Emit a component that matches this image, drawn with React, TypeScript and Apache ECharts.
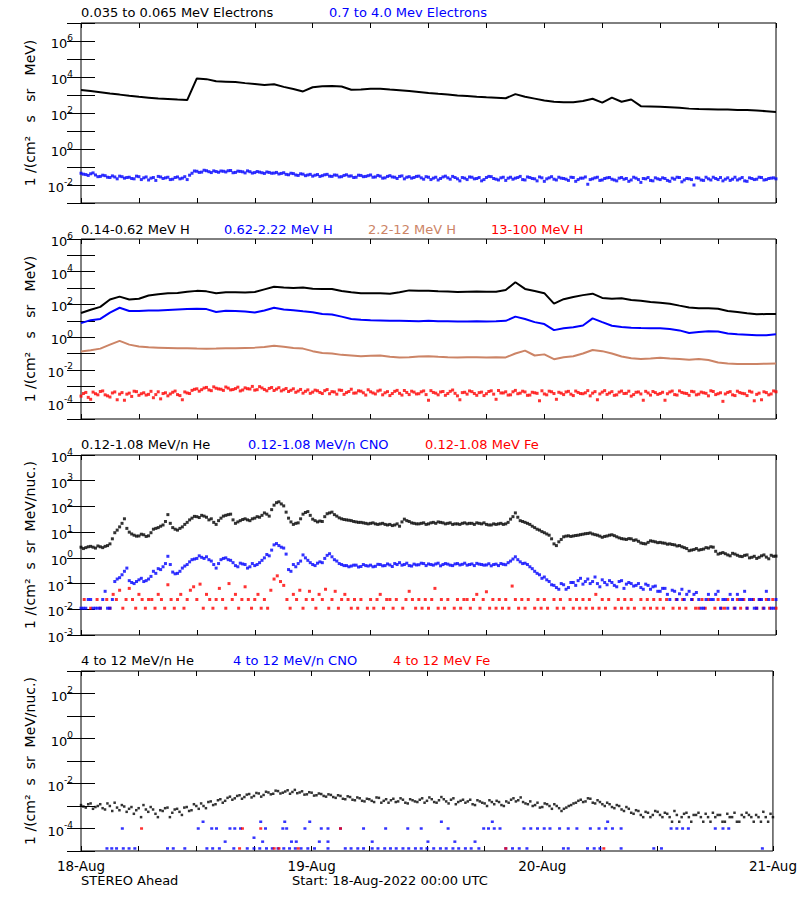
import React, { useEffect, useRef } from 'react';
import * as echarts from 'echarts';

const FONT = 'DejaVu Sans';
const BLACK = '#000000';
const BLUE = '#0000ff';
const BROWN = '#cc8466';
const RED = '#ff0000';

const dayLabels = ['18-Aug', '19-Aug', '20-Aug', '21-Aug'];

// Panel 1: 0.035-0.065 MeV electrons (hourly)
const elecLow = [1900, 1660, 1410, 1200, 1050, 910, 795, 710, 630, 600, 560, 525,
  8300, 7600, 5750, 5500, 5250, 4570, 4070, 3630, 3980, 2820, 2140, 1580,
  2690, 3090, 3160, 2950, 1950, 2040, 2240, 2190, 2000, 1860, 1660, 1480,
  1290, 1170, 1070, 930, 870, 795, 740, 710, 660, 1120, 795, 630,
  500, 420, 390, 400, 460, 615, 380, 710, 420, 560, 240, 230,
  220, 210, 195, 175, 165, 162, 158, 155, 148, 145, 138, 126, 115];

// Panel 1: 0.7-4.0 MeV electrons (30 min, on the hour / half hour)
const elecHigh = [0.045, 0.038, 0.042, 0.036, 0.030, 0.033, 0.026, 0.028, 0.031, 0.024,
  0.027, 0.022, 0.029, 0.025, 0.019, 0.026, 0.030, 0.023, 0.027, 0.021,
  0.028, 0.024, 0.020, 0.045, 0.058, 0.052, 0.062, 0.049, 0.056, 0.060,
  0.053, 0.064, 0.050, 0.057, 0.047, 0.055, 0.049, 0.052, 0.044, 0.050,
  0.046, 0.041, 0.048, 0.037, 0.043, 0.034, 0.040, 0.036, 0.031, 0.038,
  0.033, 0.039, 0.030, 0.035, 0.029, 0.037, 0.032, 0.027, 0.034, 0.030,
  0.036, 0.028, 0.031, 0.025, 0.033, 0.027, 0.030, 0.022, 0.029, 0.026,
  0.031, 0.021, 0.027, 0.024, 0.019, 0.028, 0.025, 0.030, 0.022, 0.026,
  0.020, 0.027, 0.023, 0.017, 0.026, 0.029, 0.021, 0.025, 0.018, 0.027,
  0.024, 0.030, 0.019, 0.026, 0.022, 0.028, 0.016, 0.025, 0.021, 0.027,
  0.023, 0.018, 0.026, 0.020, 0.024, 0.011, 0.022, 0.027, 0.019, 0.025,
  0.021, 0.017, 0.026, 0.023, 0.019, 0.024, 0.014, 0.022, 0.018, 0.025,
  0.020, 0.023, 0.016, 0.021, 0.026, 0.019, 0.022, 0.010, 0.024, 0.018,
  0.022, 0.027, 0.020, 0.017, 0.025, 0.021, 0.019, 0.026, 0.016, 0.023,
  0.021, 0.026, 0.020, 0.024, 0.022];
// same channel, samples at :15 / :45
const elecHighQ = [0.040, 0.034, 0.047, 0.029, 0.035, 0.027, 0.032, 0.022, 0.029, 0.026,
  0.023, 0.031, 0.020, 0.028, 0.024, 0.018, 0.028, 0.025, 0.020, 0.026,
  0.022, 0.029, 0.035, 0.060, 0.050, 0.066, 0.055, 0.061, 0.051, 0.058,
  0.062, 0.048, 0.059, 0.054, 0.061, 0.046, 0.056, 0.048, 0.053, 0.045,
  0.050, 0.044, 0.039, 0.045, 0.036, 0.042, 0.033, 0.039, 0.035, 0.030,
  0.037, 0.031, 0.036, 0.028, 0.034, 0.031, 0.026, 0.035, 0.029, 0.033,
  0.027, 0.034, 0.024, 0.030, 0.028, 0.023, 0.032, 0.027, 0.024, 0.030,
  0.025, 0.029, 0.020, 0.027, 0.023, 0.031, 0.021, 0.026, 0.017, 0.024,
  0.028, 0.022, 0.026, 0.020, 0.030, 0.023, 0.019, 0.027, 0.024, 0.021,
  0.026, 0.020, 0.028, 0.023, 0.017, 0.025, 0.022, 0.029, 0.019, 0.024,
  0.021, 0.027, 0.016, 0.024, 0.028, 0.020, 0.025, 0.018, 0.023, 0.026,
  0.019, 0.024, 0.021, 0.016, 0.027, 0.020, 0.023, 0.026, 0.017, 0.022,
  0.025, 0.018, 0.024, 0.027, 0.015, 0.023, 0.020, 0.025, 0.019, 0.027,
  0.019, 0.023, 0.026, 0.021, 0.018, 0.027, 0.022, 0.017, 0.025, 0.020,
  0.027, 0.019, 0.023, 0.025];

// Panel 2: protons (hourly)
const h014 = [30, 47, 71, 200, 300, 200, 224, 355, 427, 479, 501, 603,
  676, 631, 479, 562, 562, 537, 575, 832, 1200, 1070, 1000, 1070,
  912, 891, 891, 661, 562, 490, 490, 490, 457, 562, 724, 692,
  676, 631, 617, 575, 603, 617, 589, 603, 759, 2290, 891, 661,
  490, 112, 209, 288, 372, 457, 251, 224, 240, 186, 166, 141,
  126, 110, 85, 66, 59, 58, 55, 40, 35, 29, 25, 26, 26];
const h062 = [7.2, 11, 13, 32, 63, 40, 40, 43, 43, 46, 49, 52,
  54, 52, 35, 41, 40, 37, 32, 43, 63, 49, 44, 38,
  33, 26, 24, 18, 13, 11.5, 10.7, 10.5, 10, 10, 9.8, 9.3,
  10, 9.5, 9.3, 9.1, 9.1, 9.3, 9.1, 9.3, 10, 18, 13, 8.3,
  6.3, 2.7, 3.5, 4.0, 5.2, 14, 8.3, 5.0, 4.2, 3.8, 3.6, 3.5,
  3.5, 3.2, 2.6, 1.8, 2.1, 2.3, 2.2, 1.7, 1.5, 1.4, 1.3, 1.3, 1.5];
const h22 = [0.135, 0.16, 0.20, 0.35, 0.60, 0.35, 0.27, 0.24, 0.23, 0.22, 0.21, 0.21,
  0.20, 0.195, 0.20, 0.21, 0.21, 0.22, 0.23, 0.25, 0.30, 0.26, 0.22, 0.20,
  0.14, 0.107, 0.10, 0.083, 0.076, 0.068, 0.074, 0.076, 0.063, 0.058, 0.060, 0.066,
  0.068, 0.063, 0.060, 0.058, 0.059, 0.060, 0.058, 0.059, 0.058, 0.10, 0.15, 0.076,
  0.089, 0.045, 0.060, 0.068, 0.10, 0.166, 0.14, 0.10, 0.066, 0.052, 0.046, 0.050,
  0.056, 0.050, 0.046, 0.042, 0.047, 0.040, 0.028, 0.025, 0.023, 0.023, 0.023, 0.024, 0.025];
// 13-100 MeV H (30 min)
const h13 = [2.5e-4, 4.2e-4, 1.6e-4, 3.5e-4, 4.8e-4, 3.0e-4, 2.2e-4, 4.5e-4, 3.3e-4, 1.4e-4,
  3.8e-4, 5.0e-4, 2.8e-4, 4.0e-4, 3.2e-4, 2.0e-4, 4.6e-4, 3.6e-4, 2.6e-4, 4.3e-4,
  3.1e-4, 1.5e-4, 3.9e-4, 5.6e-4, 7.0e-4, 6.2e-4, 8.5e-4, 5.4e-4, 7.6e-4, 6.6e-4,
  9.0e-4, 6.0e-4, 7.2e-4, 5.2e-4, 8.0e-4, 6.8e-4, 5.8e-4, 9.5e-4, 6.4e-4, 7.4e-4,
  5.5e-4, 8.2e-4, 6.1e-4, 4.8e-4, 7.0e-4, 5.1e-4, 3.8e-4, 6.0e-4, 4.4e-4, 5.3e-4,
  3.6e-4, 6.3e-4, 4.7e-4, 3.3e-4, 5.6e-4, 4.1e-4, 6.6e-4, 3.9e-4, 5.0e-4, 2.9e-4,
  4.6e-4, 3.4e-4, 5.8e-4, 4.0e-4, 2.7e-4, 4.9e-4, 3.7e-4, 5.5e-4, 3.1e-4, 4.4e-4,
  3.5e-4, 5.2e-4, 1.4e-4, 4.2e-4, 3.0e-4, 4.8e-4, 3.6e-4, 5.9e-4, 2.6e-4, 4.1e-4,
  3.3e-4, 4.7e-4, 2.8e-4, 4.4e-4, 3.5e-4, 5.3e-4, 1.6e-4, 3.9e-4, 4.6e-4, 3.0e-4,
  5.6e-4, 3.8e-4, 4.5e-4, 2.9e-4, 4.0e-4, 1.3e-4, 3.4e-4, 5.0e-4, 3.6e-4, 4.3e-4,
  3.1e-4, 4.9e-4, 2.7e-4, 4.2e-4, 3.5e-4, 5.4e-4, 3.8e-4, 1.5e-4, 4.4e-4, 3.2e-4,
  4.7e-4, 3.0e-4, 5.1e-4, 3.7e-4, 2.5e-4, 4.3e-4, 3.4e-4, 4.9e-4, 2.9e-4, 4.1e-4,
  3.6e-4, 1.4e-4, 4.5e-4, 3.1e-4, 5.2e-4, 3.8e-4, 2.8e-4, 4.6e-4, 3.3e-4, 4.0e-4,
  2.6e-4, 4.8e-4, 3.5e-4, 1.2e-4, 4.2e-4, 3.0e-4, 5.0e-4, 3.7e-4, 2.7e-4, 4.4e-4,
  3.2e-4, 1.5e-4, 4.1e-4, 3.4e-4, 4.6e-4];
const h13Q = [3.6e-4, 2.1e-4, 4.4e-4, 3.0e-4, 5.2e-4, 2.6e-4, 3.9e-4, 1.5e-4, 4.1e-4, 3.3e-4,
  2.4e-4, 4.7e-4, 3.5e-4, 2.9e-4, 4.9e-4, 3.1e-4, 1.7e-4, 4.0e-4, 3.4e-4, 5.1e-4,
  2.7e-4, 4.5e-4, 3.6e-4, 6.5e-4, 5.0e-4, 7.8e-4, 6.0e-4, 9.2e-4, 6.9e-4, 5.6e-4,
  7.7e-4, 6.3e-4, 8.8e-4, 5.9e-4, 7.1e-4, 9.8e-4, 6.2e-4, 7.9e-4, 5.3e-4, 8.4e-4,
  6.7e-4, 5.2e-4, 7.3e-4, 5.7e-4, 4.3e-4, 6.4e-4, 4.9e-4, 3.7e-4, 5.8e-4, 4.2e-4,
  5.4e-4, 3.5e-4, 4.5e-4, 5.9e-4, 3.2e-4, 4.8e-4, 3.8e-4, 5.3e-4, 4.0e-4, 6.1e-4,
  3.9e-4, 5.1e-4, 3.0e-4, 4.7e-4, 3.6e-4, 5.6e-4, 2.9e-4, 4.2e-4, 5.0e-4, 3.4e-4,
  4.6e-4, 3.1e-4, 5.4e-4, 3.8e-4, 4.5e-4, 2.8e-4, 4.9e-4, 3.7e-4, 1.5e-4, 4.3e-4,
  5.2e-4, 3.6e-4, 4.1e-4, 2.7e-4, 4.8e-4, 3.3e-4, 5.5e-4, 3.9e-4, 2.9e-4, 4.6e-4,
  3.5e-4, 5.0e-4, 2.8e-4, 4.3e-4, 3.7e-4, 5.3e-4, 3.0e-4, 4.6e-4, 1.6e-4, 3.8e-4,
  4.5e-4, 3.3e-4, 5.1e-4, 3.6e-4, 4.0e-4, 2.6e-4, 4.7e-4, 3.4e-4, 5.4e-4, 3.9e-4,
  2.8e-4, 4.4e-4, 3.6e-4, 5.0e-4, 3.1e-4, 4.5e-4, 1.4e-4, 3.9e-4, 4.8e-4, 3.2e-4,
  4.3e-4, 3.5e-4, 5.1e-4, 2.9e-4, 4.2e-4, 3.6e-4, 4.9e-4, 3.0e-4, 4.4e-4, 3.7e-4,
  5.3e-4, 3.1e-4, 4.0e-4, 3.4e-4, 4.7e-4, 2.7e-4, 4.1e-4, 3.5e-4, 5.0e-4, 1.3e-4,
  3.8e-4, 4.6e-4, 3.0e-4, 5.2e-4];

// Panel 3: 0.12-1.08 MeV/n (30 min)
const he012 = [2.6, 2.5, 2.8, 2.4, 2.7, 2.8, 3.5, 9.5, 16, 33,
  10, 7.6, 7.1, 7.9, 7.2, 13, 15, 19, 48, 15,
  12, 16, 24, 35, 40, 45, 38, 33, 20, 35,
  45, 50, 22, 28, 33, 28, 35, 38, 56, 42,
  112, 151, 105, 35, 20, 23, 50, 63, 32, 25,
  26, 52, 60, 42, 33, 30, 28, 25, 24, 22,
  22, 21, 21, 20, 20, 19, 17, 32, 26, 22,
  21, 23, 21, 24, 25, 23, 22, 20, 21, 22,
  21, 22, 23, 21, 20, 19, 20, 22, 21, 32,
  56, 28, 24, 20, 15, 12, 9.5, 7.6, 3.5, 4.2,
  6.6, 7.2, 7.1, 7.6, 8.3, 8.9, 8.5, 7.6, 6.3, 7.1,
  7.9, 6.6, 5.6, 5.2, 5.5, 5.0, 3.8, 3.5, 4.6, 4.2,
  4.0, 3.7, 3.5, 3.2, 3.0, 2.5, 1.9, 2.1, 2.0, 2.2,
  2.4, 2.6, 1.4, 1.6, 1.3, 1.5, 1.26, 1.12, 1.3, 1.05,
  0.95, 1.2, 1.07, 1.26, 1.17];
const he012Q = [2.3, 2.7, 2.6, 2.9, 2.5, 3.0, 5.5, 12, 22, 14,
  8.5, 7.0, 8.3, 6.8, 9.5, 14, 17, 26, 22, 13,
  14, 20, 30, 41, 37, 42, 30, 24, 28, 42,
  48, 30, 25, 31, 30, 33, 40, 45, 50, 75,
  140, 125, 60, 25, 22, 33, 58, 45, 28, 27,
  40, 56, 48, 36, 31, 29, 26, 24, 23, 21,
  23, 20, 22, 19, 18, 21, 25, 28, 23, 21,
  22, 20, 23, 22, 24, 21, 23, 21, 20, 23,
  22, 20, 22, 23, 19, 21, 21, 20, 24, 40,
  38, 26, 22, 17, 13, 10.5, 8.5, 5.5, 3.0, 5.2,
  7.0, 6.8, 7.4, 8.0, 8.7, 9.3, 8.0, 7.0, 6.8, 7.6,
  7.3, 6.0, 5.4, 5.6, 4.8, 4.4, 3.6, 4.0, 4.4, 3.9,
  3.8, 3.4, 3.3, 2.9, 2.7, 2.3, 2.0, 2.3, 2.1, 2.5,
  2.7, 1.8, 1.5, 1.45, 1.2, 1.4, 1.15, 1.25, 1.0, 1.15,
  1.05, 1.3, 0.92, 1.15];
const cno012 = [0.011, 0.011, 0.024, 0.011, 0.011, 0.050, 0.011, 0.12, 0.17, 0.30,
  0.13, 0.10, 0.14, 0.12, 0.15, 0.30, 0.38, 0.45, 1.15, 0.28,
  0.25, 0.40, 0.55, 0.85, 0.95, 1.05, 1.10, 0.75, 0.40, 0.85,
  1.0, 0.80, 0.50, 0.62, 0.55, 0.45, 0.50, 0.65, 1.0, 1.2,
  3.2, 3.0, 2.4, 0.35, 0.55, 0.60, 1.3, 0.80, 0.55, 0.62,
  0.65, 1.25, 1.1, 0.75, 0.55, 0.50, 0.48, 0.52, 0.46, 0.50,
  0.52, 0.47, 0.55, 0.50, 0.53, 0.60, 0.65, 0.55, 0.50, 0.57,
  0.54, 0.60, 0.58, 0.52, 0.62, 0.55, 0.57, 0.50, 0.60, 0.56,
  0.52, 0.58, 0.61, 0.55, 0.53, 0.49, 0.57, 0.60, 0.54, 0.75,
  1.1, 0.70, 0.62, 0.45, 0.30, 0.22, 0.18, 0.12, 0.085, 0.060,
  0.090, 0.070, 0.11, 0.13, 0.095, 0.15, 0.12, 0.10, 0.14, 0.090,
  0.11, 0.075, 0.13, 0.095, 0.10, 0.085, 0.070, 0.095, 0.060, 0.080,
  0.050, 0.065, 0.024, 0.050, 0.040, 0.024, 0.050, 0.038, 0.024, 0.011,
  0.038, 0.024, 0.050, 0.024, 0.011, 0.024, 0.038, 0.024, 0.011, 0.024,
  0.011, 0.024, 0.050, 0.011, 0.024];
const cno012Q = [0.011, 0.024, 0.011, 0.011, 0.024, 0.011, 0.024, 0.15, 0.22, 0.40,
  0.11, 0.12, 0.16, 0.13, 0.19, 0.25, 0.35, 0.60, 0.55, 0.24,
  0.30, 0.48, 0.70, 0.90, 1.2, 0.95, 0.85, 0.55, 0.60, 0.95,
  0.85, 0.65, 0.45, 0.58, 0.40, 0.60, 0.55, 0.80, 1.35, 2.0,
  3.6, 2.6, 1.4, 0.30, 0.45, 0.75, 1.0, 0.65, 0.50, 0.70,
  0.95, 1.45, 0.85, 0.60, 0.50, 0.45, 0.52, 0.44, 0.55, 0.48,
  0.45, 0.56, 0.49, 0.58, 0.46, 0.55, 0.52, 0.62, 0.48, 0.53,
  0.62, 0.50, 0.55, 0.58, 0.49, 0.60, 0.52, 0.58, 0.53, 0.62,
  0.55, 0.50, 0.57, 0.52, 0.59, 0.55, 0.50, 0.56, 0.65, 0.90,
  0.85, 0.60, 0.55, 0.38, 0.25, 0.16, 0.14, 0.09, 0.070, 0.10,
  0.060, 0.11, 0.085, 0.16, 0.12, 0.10, 0.18, 0.075, 0.11, 0.13,
  0.085, 0.12, 0.065, 0.11, 0.08, 0.10, 0.060, 0.085, 0.075, 0.050,
  0.065, 0.038, 0.055, 0.024, 0.060, 0.038, 0.024, 0.045, 0.011, 0.024,
  0.024, 0.038, 0.011, 0.024, 0.038, 0.011, 0.024, 0.050, 0.024, 0.011,
  0.024, 0.011, 0.024, 0.011];
// Fe 0.12-1.08 MeV (20 min, null = no counts)
const fe012 = [null, 0.024, null, 0.011, null, 0.024, 0.011, null, 0.024, 0.011, 0.038, 0.024,
  0.055, 0.011, 0.024, 0.065, 0.024, 0.011, 0.038, 0.024, 0.011, 0.024, 0.024, 0.011,
  0.038, 0.024, 0.011, 0.090, 0.024, 0.011, 0.024, 0.038, 0.011, 0.024, 0.055, 0.075,
  0.024, 0.095, 0.011, 0.038, 0.024, 0.011, 0.024, 0.065, 0.024, 0.011, 0.10, 0.024,
  0.038, 0.011, 0.024, 0.075, 0.024, 0.011, 0.024, 0.038, 0.011, 0.024, 0.011, 0.055,
  0.15, 0.20, 0.12, 0.085, 0.024, 0.011, 0.038, 0.024, 0.055, 0.011, 0.024, 0.050,
  0.024, 0.011, 0.038, 0.024, 0.060, 0.011, 0.024, 0.050, 0.011, 0.024, 0.038, 0.024,
  0.011, 0.024, 0.011, 0.024, null, 0.011, 0.024, 0.011, 0.024, 0.038, 0.011, 0.024,
  0.024, 0.011, 0.024, null, 0.011, 0.024, 0.050, 0.024, 0.011, 0.024, 0.011, 0.024,
  0.011, 0.024, 0.065, 0.011, 0.024, 0.011, 0.024, null, 0.011, 0.024, 0.011, 0.024,
  0.024, 0.011, 0.024, 0.038, 0.011, 0.024, 0.048, 0.011, 0.024, 0.011, 0.024, 0.011,
  0.024, 0.011, 0.080, 0.024, 0.011, 0.024, 0.011, 0.024, null, 0.011, 0.024, 0.011,
  0.024, 0.011, null, 0.024, 0.011, 0.024, 0.011, null, 0.024, 0.011, 0.024, 0.011,
  0.024, 0.011, 0.024, 0.011, 0.038, 0.011, 0.024, 0.011, 0.024, null, 0.011, 0.024,
  0.011, 0.024, 0.011, 0.024, 0.011, null, 0.024, 0.011, 0.024, 0.011, 0.024, 0.011,
  0.024, 0.011, 0.024, null, 0.011, 0.024, 0.011, 0.024, 0.011, null, 0.024, 0.011,
  0.011, 0.024, 0.011, 0.024, null, 0.011, 0.024, 0.011, 0.011, 0.024, null, 0.011,
  0.024, 0.011, 0.024, 0.011, null, 0.024, 0.011, 0.024, 0.011, 0.024, 0.011, 0.024,
  0.011];

// Panel 4: 4-12 MeV/n He (30 min)
const he4 = [1.1e-3, 8.5e-4, 1.3e-3, 9.0e-4, 1.2e-3, 7.0e-4, 1.0e-3, 1.4e-3, 6.5e-4, 9.5e-4,
  7.5e-4, 4.5e-4, 8.0e-4, 1.1e-3, 5.5e-4, 7.0e-4, 3.2e-4, 6.0e-4, 8.5e-4, 5.0e-4,
  7.5e-4, 4.0e-4, 9.0e-4, 6.5e-4, 1.0e-3, 1.3e-3, 8.0e-4, 1.6e-3, 1.2e-3, 2.0e-3,
  1.7e-3, 2.6e-3, 2.2e-3, 3.0e-3, 2.5e-3, 3.4e-3, 2.8e-3, 3.6e-3, 3.1e-3, 4.0e-3,
  3.5e-3, 4.6e-3, 3.9e-3, 5.0e-3, 4.2e-3, 3.7e-3, 4.5e-3, 3.3e-3, 3.9e-3, 3.0e-3,
  3.4e-3, 2.6e-3, 3.1e-3, 2.3e-3, 2.8e-3, 2.0e-3, 2.5e-3, 1.8e-3, 2.2e-3, 1.6e-3,
  2.0e-3, 1.5e-3, 2.3e-3, 1.7e-3, 1.4e-3, 2.1e-3, 1.6e-3, 1.9e-3, 1.3e-3, 1.8e-3,
  1.5e-3, 2.2e-3, 1.7e-3, 2.0e-3, 1.4e-3, 2.5e-3, 1.6e-3, 1.9e-3, 1.2e-3, 1.7e-3,
  1.4e-3, 1.9e-3, 1.1e-3, 1.6e-3, 1.3e-3, 1.8e-3, 1.2e-3, 1.5e-3, 1.0e-3, 1.4e-3,
  2.2e-3, 1.8e-3, 1.5e-3, 1.2e-3, 1.0e-3, 1.4e-3, 9.0e-4, 1.2e-3, 7.5e-4, 1.0e-3,
  6.0e-4, 8.5e-4, 1.1e-3, 1.4e-3, 1.9e-3, 1.6e-3, 2.1e-3, 1.3e-3, 1.5e-3, 1.0e-3,
  1.2e-3, 8.0e-4, 1.0e-3, 6.0e-4, 7.5e-4, 4.5e-4, 6.0e-4, 3.2e-4, 5.0e-4, 4.0e-4,
  5.5e-4, 3.2e-4, 4.5e-4, 2.0e-4, 4.0e-4, 3.2e-4, 5.0e-4, 2.0e-4, 4.0e-4, 3.2e-4,
  4.5e-4, 2.0e-4, 3.2e-4, 4.0e-4, 2.0e-4, 3.2e-4, 5.0e-4, 2.0e-4, 3.2e-4, 4.0e-4,
  2.0e-4, 3.2e-4, 5.5e-4, 2.0e-4, 3.2e-4];
const he4Q = [9.5e-4, 1.2e-3, 7.5e-4, 1.0e-3, 8.0e-4, 1.3e-3, 6.0e-4, 8.5e-4, 1.1e-3, 5.5e-4,
  9.0e-4, 6.5e-4, 3.2e-4, 7.0e-4, 9.0e-4, 4.5e-4, 6.5e-4, 8.0e-4, 3.2e-4, 7.0e-4,
  5.5e-4, 8.5e-4, 6.0e-4, 1.2e-3, 7.5e-4, 1.0e-3, 1.5e-3, 1.1e-3, 1.8e-3, 1.4e-3,
  2.3e-3, 1.9e-3, 2.8e-3, 2.1e-3, 3.2e-3, 2.4e-3, 3.8e-3, 2.6e-3, 4.3e-3, 3.3e-3,
  4.8e-3, 3.6e-3, 4.4e-3, 3.5e-3, 5.2e-3, 4.0e-3, 3.2e-3, 4.1e-3, 2.9e-3, 3.6e-3,
  2.8e-3, 3.3e-3, 2.5e-3, 3.0e-3, 2.1e-3, 2.7e-3, 1.9e-3, 2.4e-3, 1.7e-3, 2.1e-3,
  1.7e-3, 2.4e-3, 1.4e-3, 2.0e-3, 1.8e-3, 1.5e-3, 2.2e-3, 1.4e-3, 2.0e-3, 1.6e-3,
  1.9e-3, 1.4e-3, 2.4e-3, 1.5e-3, 1.8e-3, 2.0e-3, 1.3e-3, 2.2e-3, 1.5e-3, 1.9e-3,
  1.6e-3, 1.2e-3, 1.8e-3, 1.4e-3, 1.0e-3, 1.5e-3, 1.7e-3, 1.1e-3, 1.6e-3, 1.9e-3,
  1.6e-3, 2.4e-3, 1.3e-3, 1.6e-3, 1.1e-3, 8.5e-4, 1.3e-3, 1.0e-3, 1.2e-3, 8.0e-4,
  7.5e-4, 1.0e-3, 1.3e-3, 1.7e-3, 1.5e-3, 2.2e-3, 1.4e-3, 1.8e-3, 1.2e-3, 1.4e-3,
  9.0e-4, 1.1e-3, 7.0e-4, 9.0e-4, 5.0e-4, 6.5e-4, 4.0e-4, 5.5e-4, 3.2e-4, 6.0e-4,
  4.0e-4, 5.0e-4, 3.2e-4, 6.0e-4, 2.0e-4, 4.5e-4, 3.2e-4, 4.0e-4, 5.0e-4, 2.0e-4,
  3.2e-4, 5.0e-4, 4.0e-4, 2.0e-4, 4.5e-4, 3.2e-4, 2.0e-4, 4.0e-4, 5.0e-4, 3.2e-4,
  4.0e-4, 2.0e-4, 3.2e-4, 4.5e-4];
// 4-12 MeV/n CNO: [hour, value]
const cno4 = [[2.7, 1.3e-5], [3.2, 1.3e-5], [3.7, 1.3e-5], [4.3, 1e-4], [4.4, 1.3e-5], [5.0, 1.3e-5], [5.6, 1.3e-5],
  [9.0, 1.3e-5], [9.6, 1.3e-5], [10.8, 1.3e-5], [12.2, 1e-4], [12.7, 2e-4], [13.1, 1.3e-5], [13.6, 1e-4],
  [13.7, 1.3e-5], [14.1, 1e-4], [14.4, 1.3e-5], [15.0, 2.6e-5], [15.5, 1e-4], [15.9, 1.3e-5], [16.0, 1e-4],
  [16.6, 1e-4], [17.3, 1.3e-5], [18.0, 3.9e-5], [18.0, 1.3e-5], [18.6, 1.3e-5], [18.7, 2e-4], [18.9, 2.6e-5],
  [19.2, 1e-4], [19.3, 1.3e-5], [19.9, 1.3e-5], [20.5, 1.3e-5], [21.0, 1e-4], [21.1, 1.3e-5], [21.2, 2e-4],
  [21.4, 1e-4], [21.7, 1.3e-5], [21.9, 2.6e-5], [22.3, 1.3e-5], [22.4, 2.6e-5], [22.9, 1.3e-5], [23.3, 1e-4],
  [23.6, 1.3e-5], [23.8, 2e-4], [24.3, 1.3e-5], [24.8, 2.6e-5], [25.0, 1e-4], [25.7, 1e-4], [25.7, 2.6e-5],
  [25.7, 1.3e-5], [27.0, 1e-4], [27.5, 1.3e-5], [28.1, 1.3e-5], [28.8, 1.3e-5], [29.4, 1e-4], [29.4, 1.3e-5],
  [30.3, 2.6e-5], [30.3, 1.3e-5], [30.9, 1.3e-5], [31.6, 1.3e-5], [31.7, 1e-4], [32.2, 1.3e-5], [32.8, 1.3e-5],
  [33.5, 1.3e-5], [34.0, 1e-4], [34.1, 1.3e-5], [34.8, 1.3e-5], [35.4, 1e-4], [35.4, 1.3e-5], [36.0, 1.3e-5],
  [36.1, 2.6e-5], [36.7, 1.3e-5], [37.4, 1.3e-5], [37.5, 2e-4], [38.0, 1.3e-5], [38.2, 1e-4], [38.7, 1.3e-5],
  [38.9, 2.6e-5], [39.3, 1.3e-5], [40.0, 1.3e-5], [40.6, 1.3e-5], [41.0, 2.6e-5], [41.4, 1.3e-5], [41.9, 1e-4],
  [42.4, 1e-4], [42.8, 2e-4], [43.0, 1e-4], [43.6, 1e-4], [44.2, 1.3e-5], [44.9, 1.3e-5], [45.6, 1.3e-5],
  [46.1, 1e-4], [46.4, 1.3e-5], [46.8, 1e-4], [47.5, 1e-4], [48.2, 1e-4], [48.8, 1e-4], [49.8, 1e-4],
  [50.2, 1.3e-5], [50.7, 1e-4], [50.7, 1.3e-5], [51.6, 1e-4], [52.7, 1.3e-5], [53.0, 1e-4], [53.4, 1.3e-5],
  [53.9, 1e-4], [54.0, 1.3e-5], [54.6, 1e-4], [54.8, 2e-4], [55.3, 1e-4], [56.2, 1e-4], [56.2, 1.3e-5],
  [59.6, 1.3e-5], [60.4, 1.3e-5], [61.4, 1e-4], [62.0, 1e-4], [62.6, 1e-4], [63.2, 1e-4], [66.0, 1e-4],
  [66.8, 1e-4], [67.4, 1e-4], [70.9, 1.3e-5]];
// 4-12 MeV Fe: [hour, value]
const fe4 = [[6.3, 1e-4], [16.5, 1.3e-5], [16.8, 1e-4], [18.7, 1e-4], [20.1, 1.3e-5], [20.6, 1.3e-5],
  [22.6, 1.3e-5], [27.0, 1e-4], [44.2, 1.3e-5], [54.4, 1.3e-5]];

const series1 = (arr: (number | null)[], step: number, start = 0) =>
  arr.map((v, i) => [start + i * step, v]).filter((p) => p[1] != null);

const RICH = {
  b: { fontFamily: FONT, fontSize: 13, color: BLACK, padding: [5, 0, 0, 0] },
  s: { fontFamily: FONT, fontSize: 9, color: BLACK, padding: [0, 0, 7, 0] },
};

function powFormatter(every: number) {
  return (value: number) => {
    const e = Math.round(Math.log10(value));
    if (e % every !== 0) return '';
    return `{b|10}{s|${e}}`;
  };
}

function xAxes(gridIndex: number, showLabels: boolean) {
  const base: any = {
    type: 'value', gridIndex, min: 0, max: 72, interval: 6,
    splitLine: { show: false }, axisLine: { show: false },
    axisTick: { show: true, inside: true, length: 5, lineStyle: { color: BLACK } },
  };
  return [
    {
      ...base, position: 'bottom',
      axisLabel: showLabels ? {
        show: true, margin: 8, color: BLACK, fontFamily: FONT, fontSize: 13.5,
        showMinLabel: true, showMaxLabel: true,
        formatter: (v: number) => (v % 24 === 0 ? dayLabels[v / 24] : ''),
      } : { show: false },
    },
    { ...base, position: 'top', axisLabel: { show: false } },
  ];
}

function yAxes(gridIndex: number, min: number, max: number, every: number, name: string) {
  const base: any = {
    type: 'log', logBase: 10, gridIndex, min, max, interval: 1,
    splitLine: { show: false }, axisLine: { show: false }, minorTick: { show: false },
    axisTick: { show: true, inside: true, length: 14, lineStyle: { color: BLACK } },
  };
  return [
    {
      ...base, position: 'left', name, nameLocation: 'middle', nameGap: 41,
      nameTextStyle: { fontFamily: FONT, fontSize: 14, color: BLACK },
      axisLabel: {
        show: true, margin: 8, showMinLabel: true, showMaxLabel: true,
        formatter: powFormatter(every), rich: RICH,
      },
    },
    { ...base, position: 'right', axisLabel: { show: false } },
  ];
}

const NB = '\u00a0';
const unitE = `1${NB}/(cm²${NB}${NB}${NB}s${NB}${NB}${NB}sr${NB}${NB}${NB}MeV)`;
const unitN = `1${NB}/(cm²${NB}${NB}s${NB}${NB}sr${NB}${NB}MeV/nuc.)`;

const titleItem = (text: string, left: number, top: number, color: string) => ({
  text, left, top, padding: 0,
  textStyle: { color, fontFamily: FONT, fontSize: 13, fontWeight: 'normal' },
});

const grids = [23, 239, 455, 671].map((top) => ({
  left: 81, top, width: 695, height: 180, show: true,
  borderColor: BLACK, borderWidth: 1, backgroundColor: '#fff',
}));

const scatter = (g: number, data: any[], color: string, size: any = 3) => ({
  type: 'scatter', xAxisIndex: 2 * g, yAxisIndex: 2 * g, data,
  symbol: 'rect', symbolSize: size, itemStyle: { color }, silent: true,
});
const line = (g: number, data: any[], color: string) => ({
  type: 'line', xAxisIndex: 2 * g, yAxisIndex: 2 * g, data,
  symbol: 'none', lineStyle: { color, width: 2 }, silent: true,
});

const option: any = {
  animation: false,
  backgroundColor: '#ffffff',
  title: [
    titleItem('0.035 to 0.065 MeV Electrons', 81, 6, BLACK),
    titleItem('0.7 to 4.0 Mev Electrons', 329, 6, BLUE),
    titleItem('0.14-0.62 MeV H', 81, 223, BLACK),
    titleItem('0.62-2.22 MeV H', 224, 223, BLUE),
    titleItem('2.2-12 MeV H', 368, 223, BROWN),
    titleItem('13-100 MeV H', 491, 223, RED),
    titleItem('0.12-1.08 MeV/n He', 81, 438, BLACK),
    titleItem('0.12-1.08 MeV/n CNO', 248, 438, BLUE),
    titleItem('0.12-1.08 MeV Fe', 425, 438, RED),
    titleItem('4 to 12 MeV/n He', 81, 654, BLACK),
    titleItem('4 to 12 MeV/n CNO', 233, 654, BLUE),
    titleItem('4 to 12 MeV Fe', 393, 654, RED),
    titleItem('STEREO Ahead', 81, 874, BLACK),
    titleItem('Start: 18-Aug-2022 00:00 UTC', 292, 874, BLACK),
  ],
  grid: grids,
  xAxis: [...xAxes(0, false), ...xAxes(1, false), ...xAxes(2, false), ...xAxes(3, true)],
  yAxis: [
    ...yAxes(0, 1e-3, 1e7, 2, unitE),
    ...yAxes(1, 1e-5, 1e6, 2, unitE),
    ...yAxes(2, 1e-3, 1e4, 1, unitN),
    ...yAxes(3, 1e-5, 1e3, 2, unitN),
  ],
  series: [
    line(0, series1(elecLow, 1), BLACK),
    scatter(0, series1(elecHigh, 0.5), BLUE),
    scatter(0, series1(elecHighQ, 0.5, 0.25), BLUE),
    line(1, series1(h014, 1), BLACK),
    line(1, series1(h062, 1), BLUE),
    line(1, series1(h22, 1), BROWN),
    scatter(1, series1(h13, 0.5), RED),
    scatter(1, series1(h13Q, 0.5, 0.25), RED),
    scatter(2, series1(fe012, 1 / 3), RED, [3, 3]),
    scatter(2, series1(cno012, 0.5), BLUE),
    scatter(2, series1(cno012Q, 0.5, 0.25), BLUE),
    scatter(2, series1(he012, 0.5), BLACK),
    scatter(2, series1(he012Q, 0.5, 0.25), BLACK),
    scatter(3, series1(he4, 0.5), BLACK, 2.5),
    scatter(3, series1(he4Q, 0.5, 0.25), BLACK, 2.5),
    scatter(3, cno4, BLUE, [3, 2.5]),
    scatter(3, fe4, RED, [3, 2.5]),
  ],
};

export default function App() {
  const ref = useRef<HTMLDivElement>(null);
  useEffect(() => {
    if (!ref.current) return;
    const chart = echarts.init(ref.current, null, { renderer: 'svg' });
    chart.setOption(option);
    return () => chart.dispose();
  }, []);
  return (
    <div
      ref={ref}
      style={{ position: 'absolute', left: 0, top: 0, width: 800, height: 900, background: '#fff' }}
    />
  );
}
